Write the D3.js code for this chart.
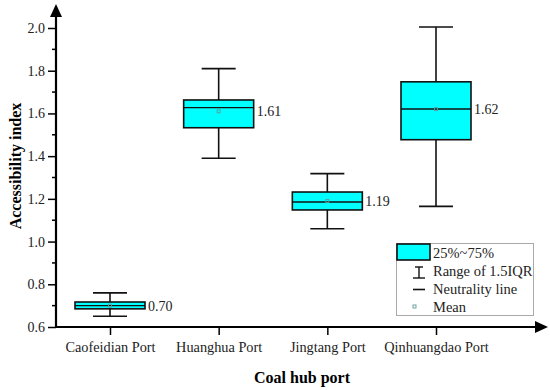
<!DOCTYPE html>
<html>
<head>
<meta charset="utf-8">
<script src="https://cdn.jsdelivr.net/npm/d3@7"></script>
<style>
  body { margin: 0; background: #fff; }
</style>
</head>
<body>
<div class="chart"></div>
<script>
// data
var ports = ["Caofeidian Port", "Huanghua Port", "Jingtang Port", "Qinhuangdao Port"];
var whiskerLow  = [0.65, 1.39, 1.06, 1.165];
var q1          = [0.685, 1.533, 1.148, 1.477];
var median      = [0.70, 1.627, 1.185, 1.621];
var q3          = [0.717, 1.663, 1.232, 1.748];
var whiskerHigh = [0.76, 1.81, 1.318, 2.005];
var means       = [0.70, 1.61, 1.19, 1.62];
var meanLabels  = ["0.70", "1.61", "1.19", "1.62"];
var yTicks = [0.6, 0.8, 1.0, 1.2, 1.4, 1.6, 1.8, 2.0];
var yMinorTicks = [0.7, 0.9, 1.1, 1.3, 1.5, 1.7, 1.9];
var legendItems = ["25%~75%", "Range of 1.5IQR", "Neutrality line", "Mean"];

var width = 550,
    height = 390;

var font = "'Liberation Serif', 'Times New Roman', serif";
var boxColor = "#00ffff";
var boxW = 70, capW = 34;

var svg = d3.select(".chart").append("svg")
    .attr("width", width)
    .attr("height", height)
    .style("font-family", font);

var x = d3.scalePoint()
    .domain(ports)
    .range([110, 436]);

var y = d3.scaleLinear()
    .domain([0.6, 2.0])
    .range([327, 28]);

var axisX = 56, axisY = y(0.6);

// y axis
var yAxis = svg.append("g")
    .attr("transform", "translate(" + axisX + ",0)")
    .call(d3.axisLeft(y).tickValues(yTicks).tickFormat(d3.format(".1f")).tickSize(8).tickSizeOuter(0));
yAxis.attr("font-family", null);
yAxis.select(".domain").remove();
yAxis.selectAll(".tick line").attr("stroke", "#000").attr("stroke-width", 1.5);
yAxis.selectAll(".tick text")
    .attr("x", -11)
    .style("font-size", "14px")
    .style("font-family", font)
    .attr("fill", "#222");

svg.append("g")
    .selectAll("line")
    .data(yMinorTicks)
    .enter()
    .append("line")
    .attr("x1", axisX - 4)
    .attr("x2", axisX)
    .attr("y1", function(d){ return y(d); })
    .attr("y2", function(d){ return y(d); })
    .attr("stroke", "#000")
    .attr("stroke-width", 1.5);

// x axis
var xAxis = svg.append("g")
    .attr("transform", "translate(0," + axisY + ")")
    .call(d3.axisBottom(x).tickSize(8).tickSizeOuter(0));
xAxis.attr("font-family", null);
xAxis.select(".domain").remove();
xAxis.selectAll(".tick line").attr("stroke", "#000").attr("stroke-width", 1.5);
xAxis.selectAll(".tick text")
    .attr("y", 15)
    .style("font-size", "14.3px")
    .style("font-family", font)
    .attr("fill", "#222");

// axis lines with arrows
svg.append("line")
    .attr("x1", axisX).attr("x2", axisX)
    .attr("y1", axisY + 1).attr("y2", 14)
    .attr("stroke", "#000").attr("stroke-width", 2.2);
svg.append("path")
    .attr("d", "M" + axisX + ",4 L" + (axisX - 6) + ",17 L" + (axisX + 6) + ",17 Z")
    .attr("fill", "#000");
svg.append("line")
    .attr("x1", axisX - 1).attr("x2", 538)
    .attr("y1", axisY).attr("y2", axisY)
    .attr("stroke", "#000").attr("stroke-width", 2.2);
svg.append("path")
    .attr("d", "M548," + axisY + " L535," + (axisY - 6) + " L535," + (axisY + 6) + " Z")
    .attr("fill", "#000");

// axis titles
svg.append("text")
    .attr("transform", "translate(21,166) rotate(-90)")
    .attr("text-anchor", "middle")
    .style("font-family", font)
    .style("font-size", "16px")
    .style("font-weight", "bold")
    .text("Accessibility index");

svg.append("text")
    .attr("x", 302)
    .attr("y", 383)
    .attr("text-anchor", "middle")
    .style("font-family", font)
    .style("font-size", "16px")
    .style("font-weight", "bold")
    .text("Coal hub port");

// boxes
var boxes = svg.append("g")
    .selectAll("g")
    .data(ports)
    .enter()
    .append("g");

boxes.append("line")
    .attr("x1", function(d){ return x(d); })
    .attr("x2", function(d){ return x(d); })
    .attr("y1", function(d,i){ return y(whiskerHigh[i]); })
    .attr("y2", function(d,i){ return y(whiskerLow[i]); })
    .attr("stroke", "#111").attr("stroke-width", 1.6);

boxes.append("line")
    .attr("x1", function(d){ return x(d) - capW/2; })
    .attr("x2", function(d){ return x(d) + capW/2; })
    .attr("y1", function(d,i){ return y(whiskerHigh[i]); })
    .attr("y2", function(d,i){ return y(whiskerHigh[i]); })
    .attr("stroke", "#111").attr("stroke-width", 1.6);

boxes.append("line")
    .attr("x1", function(d){ return x(d) - capW/2; })
    .attr("x2", function(d){ return x(d) + capW/2; })
    .attr("y1", function(d,i){ return y(whiskerLow[i]); })
    .attr("y2", function(d,i){ return y(whiskerLow[i]); })
    .attr("stroke", "#111").attr("stroke-width", 1.6);

boxes.append("rect")
    .attr("x", function(d){ return x(d) - boxW/2; })
    .attr("y", function(d,i){ return y(q3[i]); })
    .attr("width", boxW)
    .attr("height", function(d,i){ return y(q1[i]) - y(q3[i]); })
    .attr("fill", boxColor)
    .attr("stroke", "#111").attr("stroke-width", 1.6);

boxes.append("line")
    .attr("x1", function(d){ return x(d) - boxW/2; })
    .attr("x2", function(d){ return x(d) + boxW/2; })
    .attr("y1", function(d,i){ return y(median[i]); })
    .attr("y2", function(d,i){ return y(median[i]); })
    .attr("stroke", "#111").attr("stroke-width", 1.4);

boxes.append("rect")
    .attr("x", function(d){ return x(d) - 1.5; })
    .attr("y", function(d,i){ return y(means[i]) - 1.5; })
    .attr("width", 3)
    .attr("height", 3)
    .attr("fill", "none")
    .attr("stroke", "#5f9a9a").attr("stroke-width", 0.9);

boxes.append("text")
    .attr("x", function(d){ return x(d) + boxW/2 + 3; })
    .attr("y", function(d,i){ return y(means[i]) + 5; })
    .style("font-family", font)
    .style("font-size", "14px")
    .attr("fill", "#222")
    .text(function(d,i){ return meanLabels[i]; });

// legend
var legend = svg.append("g");
legend.append("rect")
    .attr("x", 396.5).attr("y", 243.5)
    .attr("width", 137).attr("height", 72)
    .attr("fill", "#fff")
    .attr("stroke", "#aaa").attr("stroke-width", 1);

legend.append("rect")
    .attr("x", 397).attr("y", 244)
    .attr("width", 33).attr("height", 16)
    .attr("fill", boxColor)
    .attr("stroke", "#111").attr("stroke-width", 1.6);

// whisker symbol
legend.append("line").attr("x1", 419).attr("x2", 419).attr("y1", 267).attr("y2", 278)
    .attr("stroke", "#111").attr("stroke-width", 1.4);
legend.append("line").attr("x1", 415).attr("x2", 423).attr("y1", 267).attr("y2", 267)
    .attr("stroke", "#111").attr("stroke-width", 1.4);
legend.append("line").attr("x1", 413).attr("x2", 425).attr("y1", 278).attr("y2", 278)
    .attr("stroke", "#111").attr("stroke-width", 1.4);
// neutrality line
legend.append("line").attr("x1", 413).attr("x2", 425).attr("y1", 289.5).attr("y2", 289.5)
    .attr("stroke", "#111").attr("stroke-width", 1.6);
// mean symbol
legend.append("rect").attr("x", 413).attr("y", 305).attr("width", 3).attr("height", 3)
    .attr("fill", "none").attr("stroke", "#5f9a9a").attr("stroke-width", 0.9);

legend.selectAll("text.leg")
    .data(legendItems)
    .enter()
    .append("text")
    .attr("class", "leg")
    .attr("x", 433)
    .attr("y", function(d,i){ return 258 + i*18; })
    .style("font-family", font)
    .style("font-size", "14.5px")
    .attr("fill", "#222")
    .text(function(d){ return d; });
</script>
</body>
</html>
